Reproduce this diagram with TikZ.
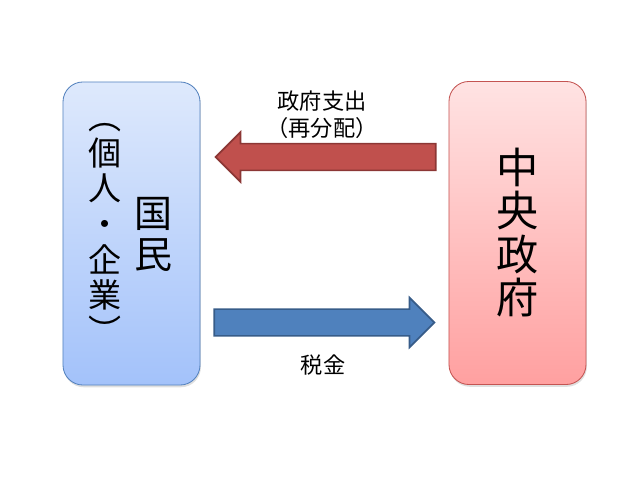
\documentclass[tikz,border=0pt]{standalone}
\usepackage{fontspec}
\newfontfamily\jp{Noto Sans CJK JP}
\usetikzlibrary{calc,positioning,shapes.arrows,shadows}

\definecolor{kokuminline}{RGB}{84,130,190}
\definecolor{kokumintop}{RGB}{222,233,252}
\definecolor{kokuminbot}{RGB}{163,194,250}
\definecolor{seifuline}{RGB}{196,84,82}
\definecolor{seifutop}{RGB}{255,227,227}
\definecolor{seifubot}{RGB}{255,160,160}
\definecolor{spendfill}{RGB}{192,80,77}
\definecolor{spendline}{RGB}{140,55,53}
\definecolor{taxfill}{RGB}{79,129,189}
\definecolor{taxline}{RGB}{55,92,137}

\begin{document}
\begin{tikzpicture}[x=0.025cm,y=-0.025cm,
  box/.style={rounded corners=0.5cm, minimum width=3.425cm, minimum height=7.575cm,
    line width=0.6pt, drop shadow={opacity=0.25,shadow xshift=0.6pt,shadow yshift=-1.6pt}},
  blockarrow/.style={single arrow, single arrow head extend=0.29cm, inner xsep=0pt,
    inner ysep=0.3125cm, minimum height=5.5cm, line width=1.2pt},
  tate/.style={align=center, inner sep=0pt},
  label/.style={align=center, inner sep=0pt, font=\jp\fontsize{15.8pt}{19.2pt}\selectfont}]
  \useasboundingbox (0,0) rectangle (640,480);

  % the two boxes
  \node[box, draw=kokuminline, top color=kokumintop, bottom color=kokuminbot] (kokumin) at (131.5,233.5) {};
  \node[box, draw=seifuline, top color=seifutop, bottom color=seifubot] (seifu) at (517.5,233) {};

  % vertical texts
  \node[tate, font=\jp\fontsize{23.5pt}{25.4pt}\selectfont] (kojin) at ($(kokumin.center)+(-26.5,0)$)
    {︵\\個\\人\\・\\企\\業\\︶};
  \node[tate, font=\jp\fontsize{27pt}{29pt}\selectfont] (kokuminlabel) at ($(kokumin.center)+(22,1)$)
    {国\\民};
  \node[tate, font=\jp\fontsize{30pt}{30.8pt}\selectfont] (seifulabel) at ($(seifu.center)+(0.5,-0.5)$)
    {中\\央\\政\\府};

  % arrows between the boxes
  \coordinate (mid) at ($(kokumin.east)!0.5!(seifu.west)$);
  \node[blockarrow, shape border rotate=180, draw=spendline, fill=spendfill, anchor=tip] (spend)
    at ($(kokumin.east)+(14,-76.5)$) {};
  \node[blockarrow, draw=taxline, fill=taxfill, anchor=tip] (tax)
    at ($(seifu.west)+(-13,89.5)$) {};

  % labels
  \node[label] (spendlabel) at ($(mid)+(-2.5,-119)$) {政府支出\\（再分配）};
  \node[label] (taxlabel) at ($(mid)+(-1.5,131.5)$) {税金};
\end{tikzpicture}
\end{document}
